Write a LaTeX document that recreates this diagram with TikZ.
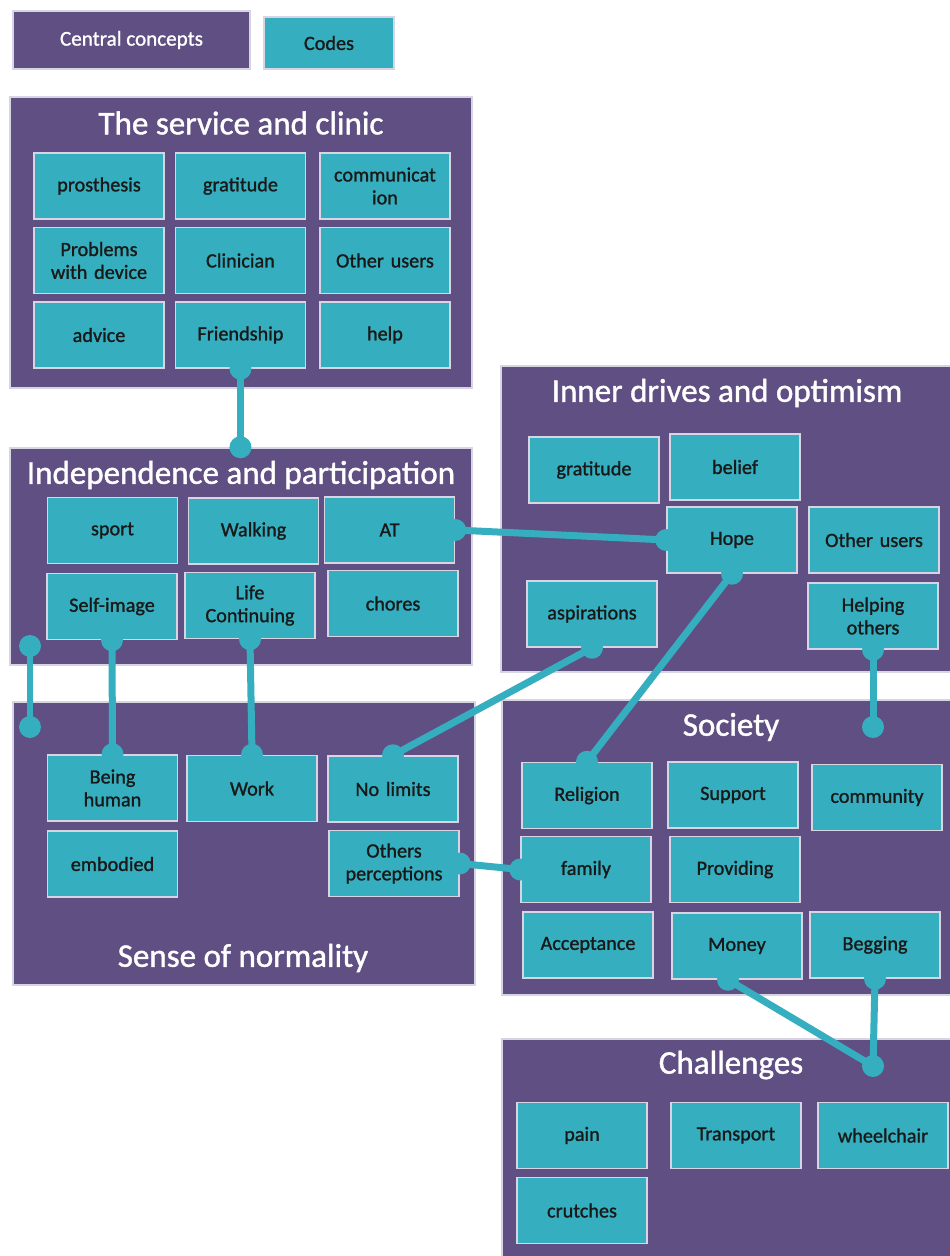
\documentclass[tikz,border=0pt]{standalone}
\usepackage{fontspec}
\setmainfont{Carlito}
\newfontfamily\mediumfont{Carlito}[FakeBold=1.2]
\usepackage{tikz}
\usetikzlibrary{positioning}
\definecolor{conceptpurple}{RGB}{95,79,130}
\definecolor{codeteal}{RGB}{53,175,191}
\definecolor{edgegrey}{RGB}{215,212,228}
\tikzstyle{concept} = [rectangle, fill=conceptpurple, draw=edgegrey, line width=0.03cm, inner sep=0pt]
\tikzstyle{code} = [rectangle, fill=codeteal, draw=edgegrey, line width=0.03cm, minimum width=2.6cm, minimum height=1.32cm, text width=2.5cm, text centered, inner sep=0pt, text=black!90, font=\mediumfont\fontsize{11.5}{13}\selectfont]
\tikzstyle{heading} = [text=white, font=\mediumfont\fontsize{18.8}{22}\selectfont]
\tikzstyle{link} = [line width=0.14cm, draw=codeteal]
\tikzstyle{dot} = [fill=codeteal]

\begin{document}
\begin{tikzpicture}[x=0.02cm, y=-0.02cm]
		\path [use as bounding box, fill=white] (0,0) rectangle (949,1256);
		% legend
		\node (Central) [concept, minimum width=4.74cm, minimum height=1.16cm, text=white, font=\mediumfont\fontsize{12}{14}\selectfont] at (131.5,40) {Central concepts};
		\node (Codes) [code, minimum width=2.6cm, minimum height=1.04cm] at (329,43) {Codes};
		% central concepts
		\node (Service) [concept, minimum width=9.24cm, minimum height=5.82cm] at (241,242.5) {};
		\node (Independence) [concept, minimum width=9.24cm, minimum height=4.34cm] at (241,556.5) {};
		\node (Normality) [concept, minimum width=9.24cm, minimum height=5.66cm] at (244,843.5) {};
		\node (Inner) [concept, minimum width=9.04cm, minimum height=6.12cm] at (727,519) {};
		\node (Society) [concept, minimum width=9cm, minimum height=5.9cm] at (727,847.5) {};
		\node (Challenges) [concept, minimum width=9cm, minimum height=4.4cm] at (727,1149) {};
		\node (ServiceTitle) [heading] at (241,123) {The service and clinic};
		\node (IndependenceTitle) [heading] at (241,475) {Independence and participation};
		\node (NormalityTitle) [heading] at (243,958) {Sense of normality};
		\node (InnerTitle) [heading] at (727,393) {Inner drives and optimism};
		\node (SocietyTitle) [heading] at (731,727) {Society};
		\node (ChallengesTitle) [heading] at (731,1065) {Challenges};
		% codes: the service and clinic
		\node (Prosthesis) [code] at (99,186) {prosthesis};
		\node (GratitudeService) [code, right = 0.2cm of Prosthesis] {gratitude};
		\node (Communication) [code, right = 0.26cm of GratitudeService] {communicat\\ion};
		\node (Problems) [code, below = 0.14cm of Prosthesis] {Problems\\with device};
		\node (Clinician) [code, below = 0.14cm of GratitudeService] {Clinician};
		\node (OtherUsersService) [code, below = 0.14cm of Communication] {Other users};
		\node (Advice) [code, below = 0.14cm of Problems] {advice};
		\node (Friendship) [code, below = 0.14cm of Clinician] {Friendship};
		\node (Help) [code, below = 0.14cm of OtherUsersService] {help};
		% codes: independence and participation
		\node (Sport) [code] at (112.5,530.5) {sport};
		\node (Walking) [code] at (253.5,531) {Walking};
		\node (AT) [code] at (389.5,530) {AT};
		\node (SelfImage) [code] at (112,606.5) {Self-image};
		\node (LifeContinuing) [code] at (250,605.5) {Life\\Continuing};
		\node (Chores) [code] at (393,603.5) {chores};
		% codes: sense of normality
		\node (BeingHuman) [code] at (112.5,788) {Being\\human};
		\node (Work) [code] at (252,788.5) {Work};
		\node (NoLimits) [code] at (393,789) {No limits};
		\node (Embodied) [code] at (112.5,864) {embodied};
		\node (OthersPerceptions) [code] at (394,863.5) {Others\\perceptions};
		% codes: inner drives and optimism
		\node (GratitudeInner) [code] at (594,470) {gratitude};
		\node (Belief) [code] at (735,467) {belief};
		\node (Hope) [code] at (732,540) {Hope};
		\node (OtherUsersInner) [code] at (874,540) {Other users};
		\node (Aspirations) [code] at (592,614) {aspirations};
		\node (HelpingOthers) [code] at (873,616) {Helping\\others};
		% codes: society
		\node (Religion) [code] at (587,795.5) {Religion};
		\node (Support) [code] at (733,795) {Support};
		\node (Community) [code] at (877,797.5) {community};
		\node (Family) [code] at (586,869.5) {family};
		\node (Providing) [code] at (735,869.5) {Providing};
		\node (Acceptance) [code] at (588,945) {Acceptance};
		\node (Money) [code] at (737,946) {Money};
		\node (Begging) [code] at (875,945) {Begging};
		% codes: challenges
		\node (Pain) [code] at (582,1135.5) {pain};
		\node (Transport) [code] at (736,1135.5) {Transport};
		\node (Wheelchair) [code] at (883,1135.5) {wheelchair};
		\node (Crutches) [code] at (582,1210.5) {crutches};
		% free ends
		\coordinate (IndependenceDot) at (Friendship.south |- Independence.north);
		\coordinate (LeftTop) at (30,646);
		\coordinate (LeftBottom) at (30,727);
		\coordinate (SocietyDot) at (873,727);
		\coordinate (MoneyDot) at ([xshift=-0.18cm]Money.south);
		\coordinate (ChallengesDot) at (873,1066);
		% links
		\draw [link] (Friendship.south) -- (IndependenceDot);
		\draw [link] (LeftTop) -- (LeftBottom);
		\draw [link] (SelfImage.south) -- (BeingHuman.north);
		\draw [link] (LifeContinuing.south) -- (Work.north);
		\draw [link] (AT.east) -- (Hope.west);
		\draw [link] (Hope.south) -- (Religion.north);
		\draw [link] (Aspirations.south) -- (NoLimits.north);
		\draw [link] (HelpingOthers.south) -- (SocietyDot);
		\draw [link] (OthersPerceptions.east) -- (Family.west);
		\draw [link] (MoneyDot) -- (ChallengesDot);
		\draw [link] (Begging.south) -- (ChallengesDot);
		\foreach \p in {Friendship.south, IndependenceDot, LeftTop, LeftBottom, SelfImage.south, BeingHuman.north, LifeContinuing.south, Work.north, AT.east, Hope.west, Hope.south, Religion.north, Aspirations.south, NoLimits.north, HelpingOthers.south, SocietyDot, OthersPerceptions.east, Family.west, MoneyDot, Begging.south, ChallengesDot}
			\fill [dot] (\p) circle (0.22cm);
\end{tikzpicture}
\end{document}
